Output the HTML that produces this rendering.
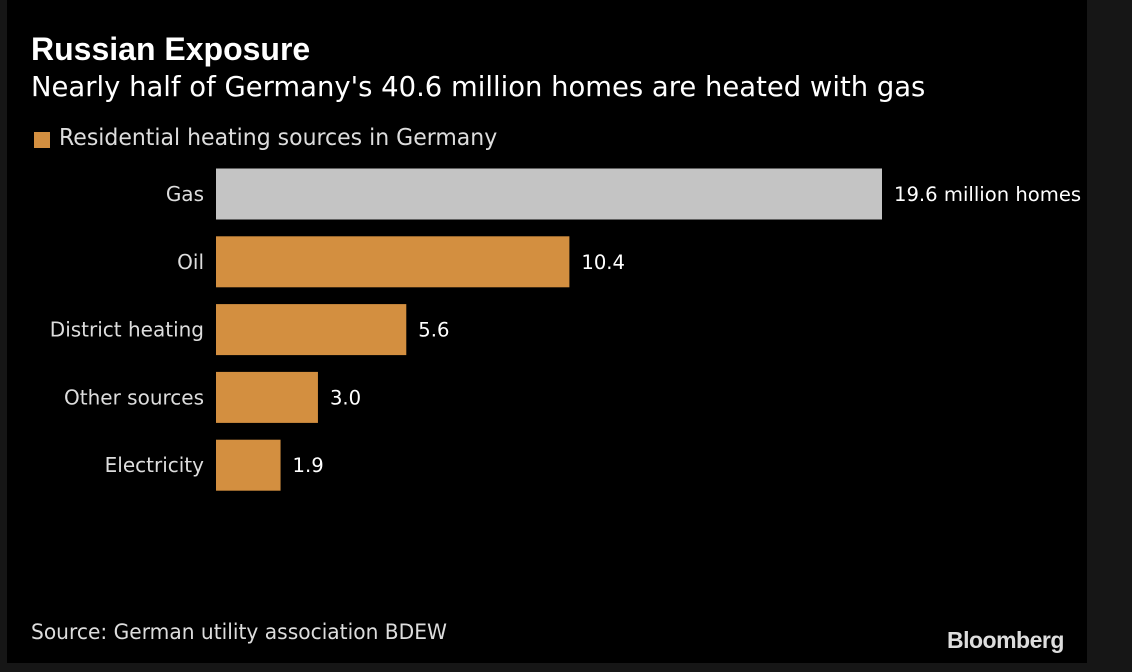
<!DOCTYPE html>
<html><head><meta charset="utf-8"><style>
body{margin:0;width:1132px;height:672px;background:#161616;overflow:hidden;font-family:"Liberation Sans","DejaVu Sans",sans-serif}
#panel{position:absolute;left:7px;top:0;width:1080px;height:663px;background:#000}
.t{position:absolute;color:#fff;white-space:nowrap}
</style></head><body>
<div id="panel"></div>
<div class="t" style="left:31px;top:31px;font-size:32px;font-weight:bold">Russian Exposure</div>
<div class="t" style="left:31px;top:70px;font-size:28px;font-family:'DejaVu Sans',sans-serif;transform:scale(0.98,1);transform-origin:left">Nearly half of Germany's 40.6 million homes are heated with gas</div>
<div style="position:absolute;left:34px;top:132px;width:16px;height:16px;background:#d38f40"></div>
<div class="t" style="left:59px;top:125px;font-size:23px;color:#ddd;font-family:'DejaVu Sans',sans-serif;transform:scale(0.956,1);transform-origin:left">Residential heating sources in Germany</div>
<svg id="chart" width="1132" height="672" style="position:absolute;left:0;top:0"></svg>
<div class="t" style="left:31px;top:620px;font-size:21px;color:#ddd;font-family:'DejaVu Sans',sans-serif;transform:scale(0.962,1);transform-origin:left">Source: German utility association BDEW</div>
<div class="t" style="left:947px;top:627px;font-size:23px;font-weight:bold;color:#ddd;letter-spacing:-0.5px">Bloomberg</div>
<script>
const categories=["Gas","Oil","District heating","Other sources","Electricity"];
const values=[19.6,10.4,5.6,3.0,1.9];
const valueLabels=["19.6 million homes","10.4","5.6","3.0","1.9"];
const svg=document.getElementById('chart');
const NS='http://www.w3.org/2000/svg';
const x0=216, pxPerUnit=666/19.6;
const xScale=v=>x0+v*pxPerUnit;
const yCenter=i=>194+i*67.8;
const barH=51;
categories.forEach((c,i)=>{
  const r=document.createElementNS(NS,'rect');
  r.setAttribute('x',x0);r.setAttribute('y',yCenter(i)-barH/2);
  r.setAttribute('width',xScale(values[i])-x0);r.setAttribute('height',barH);
  r.setAttribute('fill',i===0?'#c4c4c4':'#d38f40');
  
  
  svg.appendChild(r);
  const l=document.createElementNS(NS,'text');
  l.setAttribute('x',204);l.setAttribute('y',yCenter(i)+7);
  l.setAttribute('text-anchor','end');l.setAttribute('fill','#ddd');
  l.setAttribute('font-size','20');l.setAttribute('font-family','DejaVu Sans, sans-serif');
  l.textContent=c;
  
  
  svg.appendChild(l);
  const v=document.createElementNS(NS,'text');
  v.setAttribute('x',xScale(values[i])+12);v.setAttribute('y',yCenter(i)+7);
  v.setAttribute('fill','#fff');v.setAttribute('font-size','19.6');
  v.setAttribute('font-family','DejaVu Sans, sans-serif');
  v.textContent=valueLabels[i];
  
  
  svg.appendChild(v);
});
</script>
</body></html>
